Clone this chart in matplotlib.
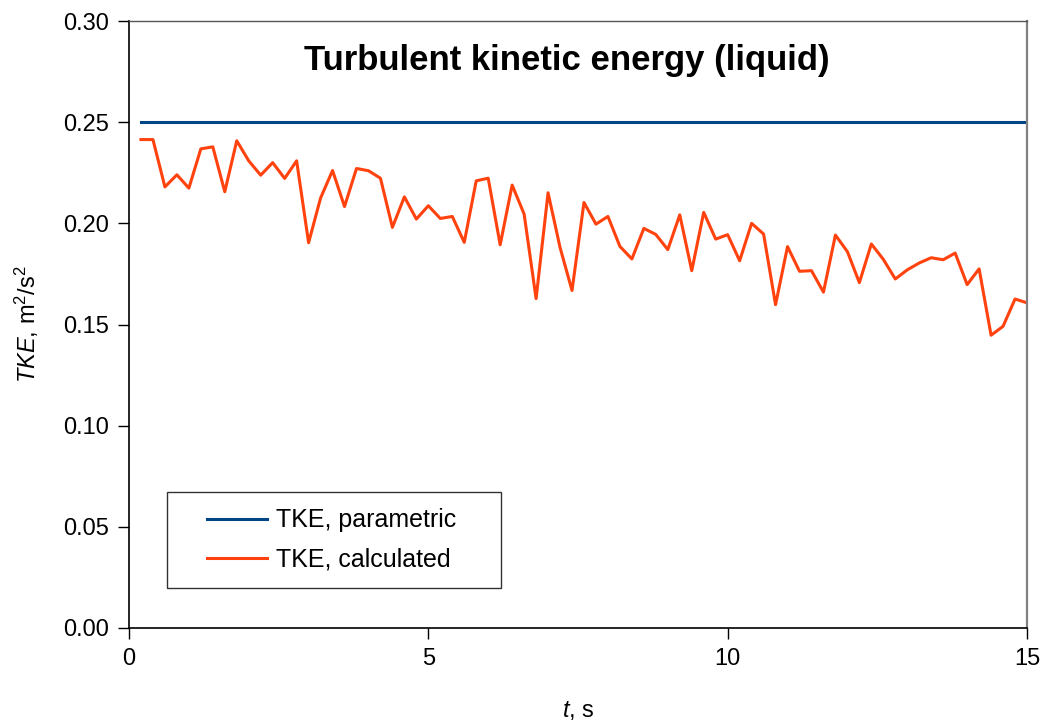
import matplotlib
matplotlib.use("Agg")
import matplotlib.pyplot as plt
from matplotlib.legend_handler import HandlerLine2D

plt.rcParams['font.family'] = ['Liberation Sans', 'DejaVu Sans']
plt.rcParams['mathtext.fontset'] = 'custom'
plt.rcParams['mathtext.rm'] = 'Liberation Sans'
plt.rcParams['mathtext.it'] = 'Liberation Sans:italic'

title = "Turbulent kinetic energy (liquid)"
x_label = "$t$, s"
y_label = "$TKE$, m$^2$/s$^2$"
legend_labels = ["TKE, parametric", "TKE, calculated"]

x_ticks = [0, 5, 10, 15]
y_ticks = [0.00, 0.05, 0.10, 0.15, 0.20, 0.25, 0.30]

param_t = [0.2, 15.0]
param_tke = [0.25, 0.25]

calc_t = [0.2, 0.4, 0.6, 0.8, 1.0, 1.2, 1.4, 1.6, 1.8, 2.0,
          2.2, 2.4, 2.6, 2.8, 3.0, 3.2, 3.4, 3.6, 3.8, 4.0,
          4.2, 4.4, 4.6, 4.8, 5.0, 5.2, 5.4, 5.6, 5.8, 6.0,
          6.2, 6.4, 6.6, 6.8, 7.0, 7.2, 7.4, 7.6, 7.8, 8.0,
          8.2, 8.4, 8.6, 8.8, 9.0, 9.2, 9.4, 9.6, 9.8, 10.0,
          10.2, 10.4, 10.6, 10.8, 11.0, 11.2, 11.4, 11.6, 11.8, 12.0,
          12.2, 12.4, 12.6, 12.8, 13.0, 13.2, 13.4, 13.6, 13.8, 14.0,
          14.2, 14.4, 14.6, 14.8, 15.0]
calc_tke = [0.2414, 0.2414, 0.2180, 0.2240, 0.2174, 0.2368, 0.2378, 0.2156, 0.2408, 0.2309,
            0.2238, 0.2300, 0.2222, 0.2309, 0.1904, 0.2125, 0.2261, 0.2083, 0.2271, 0.2260,
            0.2223, 0.1980, 0.2131, 0.2021, 0.2087, 0.2024, 0.2034, 0.1906, 0.2210, 0.2223,
            0.1894, 0.2189, 0.2046, 0.1628, 0.2151, 0.1881, 0.1668, 0.2103, 0.1996, 0.2034,
            0.1886, 0.1824, 0.1975, 0.1945, 0.1870, 0.2042, 0.1766, 0.2054, 0.1922, 0.1944,
            0.1815, 0.2000, 0.1947, 0.1598, 0.1885, 0.1763, 0.1766, 0.1660, 0.1942, 0.1860,
            0.1707, 0.1898, 0.1822, 0.1725, 0.1770, 0.1804, 0.1830, 0.1820, 0.1853, 0.1697,
            0.1775, 0.1447, 0.1491, 0.1626, 0.1607]

fig = plt.figure(figsize=(10.43, 7.24), dpi=100)
ax = fig.add_axes([129/1043, 1 - 628/724, (1027 - 129)/1043, (628 - 21)/724])

ax.plot(param_t, param_tke, color='#004586', lw=2.2, label=legend_labels[0])
ax.plot(calc_t, calc_tke, color='#FF420E', lw=2.2, label=legend_labels[1])

ax.set_xlim(0, 15)
ax.set_ylim(0, 0.30)
ax.set_xticks(x_ticks)
ax.set_xticklabels([str(v) for v in x_ticks])
ax.set_yticks(y_ticks)
ax.set_yticklabels([f"{v:.2f}" for v in y_ticks])
ax.tick_params(direction='out', length=8, width=1, labelsize=17, pad=6.5, color='black')

for s in ['left', 'bottom']:
    ax.spines[s].set_color('black')
    ax.spines[s].set_linewidth(1.2)
ax.spines['top'].set_color('#555555')
ax.spines['top'].set_linewidth(1.0)
ax.spines['right'].set_color('#808080')
ax.spines['right'].set_linewidth(1.6)

ax.text(0.488, 0.935, title, transform=ax.transAxes, ha='center', va='center',
        fontsize=25, fontweight='bold')

ax.set_xlabel(x_label, fontsize=17, labelpad=21)
ax.set_ylabel(y_label, fontsize=17, labelpad=16)

hm = {ln: HandlerLine2D(xpad=0.94) for ln in ax.get_lines()}
leg = ax.legend(loc='lower left', bbox_to_anchor=((167-129)/898, (628-588)/607, (501-167)/898, (588-492)/607),
                mode='expand', fontsize=18, frameon=True, fancybox=False,
                edgecolor='black', handlelength=3.34, handletextpad=0.36,
                borderpad=0.65, labelspacing=0.61, borderaxespad=0, handler_map=hm)
leg.get_frame().set_linewidth(1.0)

fig.savefig('out.png', dpi=100)
